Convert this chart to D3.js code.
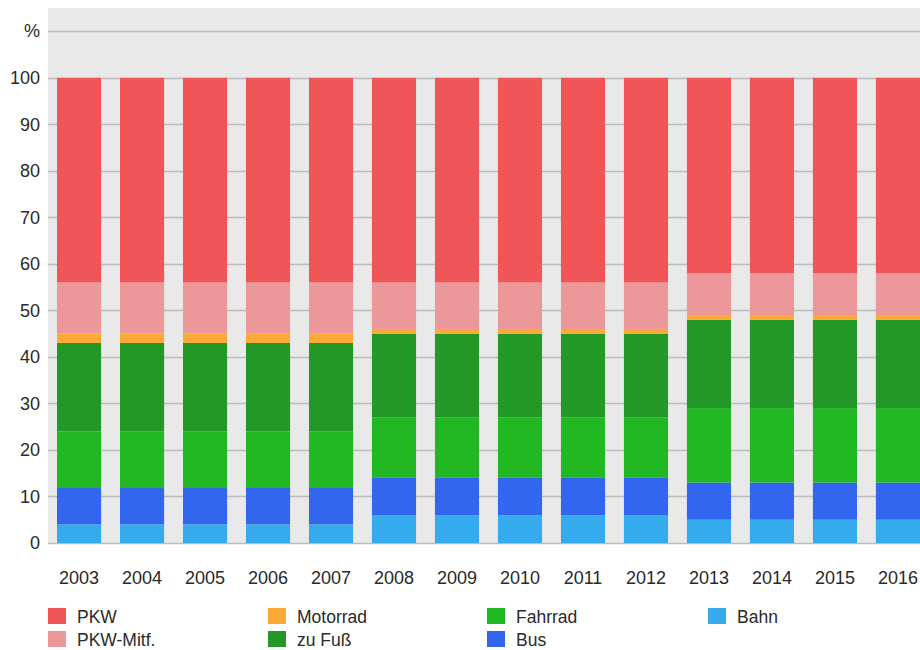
<!DOCTYPE html>
<html>
<head>
<meta charset="utf-8">
<script src="https://cdn.jsdelivr.net/npm/d3@7"></script>
<style>
  body { margin: 0; background: #fff; }
  svg { display: block; font-family: "Liberation Sans", Arial, sans-serif; }
</style>
</head>
<body>
<svg id="chart" width="920" height="650"></svg>
<script>
// data (percent shares, stacked bottom-up)
var years = ["2003", "2004", "2005", "2006", "2007", "2008", "2009", "2010",
             "2011", "2012", "2013", "2014", "2015", "2016"];
var bahn     = [4, 4, 4, 4, 4, 6, 6, 6, 6, 6, 5, 5, 5, 5];
var bus      = [8, 8, 8, 8, 8, 8, 8, 8, 8, 8, 8, 8, 8, 8];
var fahrrad  = [12, 12, 12, 12, 12, 13, 13, 13, 13, 13, 16, 16, 16, 16];
var zuFuss   = [19, 19, 19, 19, 19, 18, 18, 18, 18, 18, 19, 19, 19, 19];
var motorrad = [2, 2, 2, 2, 2, 1, 1, 1, 1, 1, 1, 1, 1, 1];
var pkwMitf  = [11, 11, 11, 11, 11, 10, 10, 10, 10, 10, 9, 9, 9, 9];
var pkw      = [44, 44, 44, 44, 44, 44, 44, 44, 44, 44, 42, 42, 42, 42];
var yTicks = [0, 10, 20, 30, 40, 50, 60, 70, 80, 90, 100];

// stack order bottom -> top
var series = [
    {key: "Bahn", values: bahn, color: "#35aaec"},
    {key: "Bus", values: bus, color: "#3366ee"},
    {key: "Fahrrad", values: fahrrad, color: "#22b824"},
    {key: "zu Fuß", values: zuFuss, color: "#249826"},
    {key: "Motorrad", values: motorrad, color: "#fda935"},
    {key: "PKW-Mitf.", values: pkwMitf, color: "#ec9799"},
    {key: "PKW", values: pkw, color: "#f05657"}
];
var legendOrder = ["PKW", "PKW-Mitf.", "Motorrad", "zu Fuß", "Fahrrad", "Bus", "Bahn"];

var rows = years.map(function (y, i) {
    var r = {year: y};
    series.forEach(function (s) { r[s.key] = s.values[i]; });
    return r;
});

var svg = d3.select("#chart");
var plotLeft = 48, plotTop = 8, plotBottom = 543;

var x = d3.scaleBand()
    .domain(years)
    .range([plotLeft, 929])
    .paddingInner(0.3)
    .paddingOuter(0.143);

var y = d3.scaleLinear()
    .domain([0, 115])
    .range([plotBottom, plotTop]);

// plot background
svg.append("rect")
    .attr("x", plotLeft)
    .attr("y", plotTop)
    .attr("width", 920 - plotLeft)
    .attr("height", plotBottom - plotTop)
    .attr("fill", "#e9e9e9");

// gridlines (incl. the "%" line at 110)
var gridVals = yTicks.concat([110]);
svg.append("g").selectAll("line")
    .data(gridVals)
    .enter().append("line")
    .attr("x1", plotLeft)
    .attr("x2", 920)
    .attr("y1", function (d) { return Math.round(y(d)) + 0.5; })
    .attr("y2", function (d) { return Math.round(y(d)) + 0.5; })
    .attr("stroke", "#bdbdbd")
    .attr("stroke-width", 1.5);

// y labels
var yAxis = d3.axisLeft(y).tickValues(yTicks).tickSize(0).tickPadding(8);
var yg = svg.append("g")
    .attr("transform", "translate(" + plotLeft + ",0)")
    .call(yAxis);
yg.select(".domain").remove();
yg.selectAll("text")
    .attr("font-size", 18)
    .attr("font-family", "Liberation Sans, Arial, sans-serif")
    .attr("fill", "#2a2a2a");

svg.append("text")
    .attr("x", plotLeft - 8)
    .attr("y", y(110))
    .attr("dy", "0.32em")
    .attr("text-anchor", "end")
    .attr("font-size", 18)
    .attr("fill", "#2a2a2a")
    .text("%");

// stacked bars
var stack = d3.stack().keys(series.map(function (s) { return s.key; }));
var layers = stack(rows);

svg.append("g").selectAll("g")
    .data(layers)
    .enter().append("g")
    .attr("fill", function (d, i) { return series[i].color; })
    .selectAll("rect")
    .data(function (d) { return d; })
    .enter().append("rect")
    .attr("x", function (d) { return x(d.data.year); })
    .attr("width", x.bandwidth())
    .attr("y", function (d) { return y(d[1]); })
    .attr("height", function (d) { return y(d[0]) - y(d[1]); });

// x labels
var xAxis = d3.axisBottom(x).tickSize(0).tickPadding(0);
var xg = svg.append("g")
    .attr("transform", "translate(0," + plotBottom + ")")
    .call(xAxis);
xg.select(".domain").remove();
xg.selectAll("text")
    .attr("y", 41)
    .attr("dy", 0)
    .attr("font-size", 18)
    .attr("font-family", "Liberation Sans, Arial, sans-serif")
    .attr("fill", "#2a2a2a");

// legend, column-major, 2 rows
var legendCols = [48, 268, 487, 708];
var colorOf = {};
series.forEach(function (s) { colorOf[s.key] = s.color; });

var leg = svg.append("g").selectAll("g")
    .data(legendOrder)
    .enter().append("g")
    .attr("transform", function (d, i) {
        return "translate(" + legendCols[Math.floor(i / 2)] + "," + (608 + (i % 2) * 23) + ")";
    });
leg.append("rect")
    .attr("width", 18)
    .attr("height", 16)
    .attr("fill", function (d) { return colorOf[d]; });
leg.append("text")
    .attr("x", 29)
    .attr("y", 15)
    .attr("font-size", 17.5)
    .attr("fill", "#2a2a2a")
    .text(function (d) { return d; });
</script>
</body>
</html>
